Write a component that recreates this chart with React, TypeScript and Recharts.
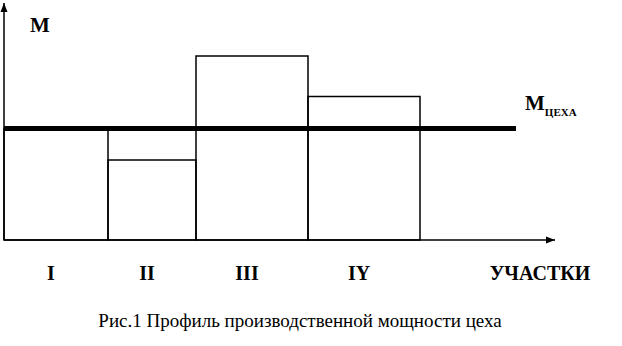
import { ComposedChart, XAxis, YAxis, ReferenceArea, ReferenceLine, ReferenceDot, Customized, Scatter } from "recharts";

// участки цеха и их мощности (условные единицы)
const sections = ["I", "II", "III", "IY"];
const sectionWidths = [104, 88, 112, 112];
const sectionCapacity = [111.5, 80, 184, 143.5];
const workshopCapacity = 111.5;
const workshopLineEnd = 512;

const X_MAX = 551;
const Y_MAX = 237;

const FONT = '"Liberation Serif", "Times New Roman", serif';

const bounds = sectionWidths.reduce<number[]>((acc, w) => [...acc, acc[acc.length - 1] + w], [0]);
const bars = sections.map((name, i) => ({ name, x1: bounds[i], x2: bounds[i + 1], value: sectionCapacity[i] }));

const ArrowUp = (p: any) => <path d={`M${p.cx},${p.cy} L${p.cx - 3.5},${p.cy + 9} L${p.cx + 3.5},${p.cy + 9} Z`} fill="#000" />;
const ArrowRight = (p: any) => <path d={`M${p.cx},${p.cy} L${p.cx - 9},${p.cy - 3.5} L${p.cx - 9},${p.cy + 3.5} Z`} fill="#000" />;

function Annotations() {
  return (
    <g fontFamily={FONT} fill="#000">
      <text x={30} y={32} fontSize={21} fontWeight="bold">M</text>
      <text x={525} y={110} fontSize={21} fontWeight="bold">
        M<tspan fontSize={11} dy={6}>ЦЕХА</tspan>
      </text>
      {bars.map((b) => (
        <text key={b.name} x={4 + (b.x1 + b.x2) / 2 - 5} y={280} fontSize={20} fontWeight="bold" textAnchor="middle">
          {b.name}
        </text>
      ))}
      <text x={540} y={280} fontSize={20} fontWeight="bold" textAnchor="middle">УЧАСТКИ</text>
      <text x={300} y={327} fontSize={19} textAnchor="middle">Рис.1 Профиль производственной мощности цеха</text>
    </g>
  );
}

export default function App() {
  return (
    <div style={{ position: "absolute", left: 0, top: 0, width: 622, height: 346, background: "#fff" }}>
      <ComposedChart width={622} height={346} data={bars} margin={{ top: 3, right: 67, bottom: 105, left: 3 }}>
        <XAxis type="number" dataKey="x1" domain={[0, X_MAX]} height={1} tick={false} tickLine={false} axisLine={{ stroke: "#000", strokeWidth: 1.5 }} />
        <YAxis type="number" dataKey="value" domain={[0, Y_MAX]} width={1} tick={false} tickLine={false} axisLine={{ stroke: "#000", strokeWidth: 1.5 }} />
        <Scatter dataKey="value" fill="none" isAnimationActive={false} />
        {bars.map((b) => (
          <ReferenceArea key={b.name} x1={b.x1} x2={b.x2} y1={0} y2={b.value} stroke="#000" strokeWidth={1.5} fill="none" fillOpacity={0} ifOverflow="visible" />
        ))}
        <ReferenceLine segment={[{ x: 0, y: workshopCapacity }, { x: workshopLineEnd, y: workshopCapacity }]} stroke="#000" strokeWidth={5} ifOverflow="visible" />
        <ReferenceDot x={0} y={Y_MAX} shape={ArrowUp} ifOverflow="visible" />
        <ReferenceDot x={X_MAX} y={0} shape={ArrowRight} ifOverflow="visible" />
        <Customized component={Annotations} />
      </ComposedChart>
    </div>
  );
}
